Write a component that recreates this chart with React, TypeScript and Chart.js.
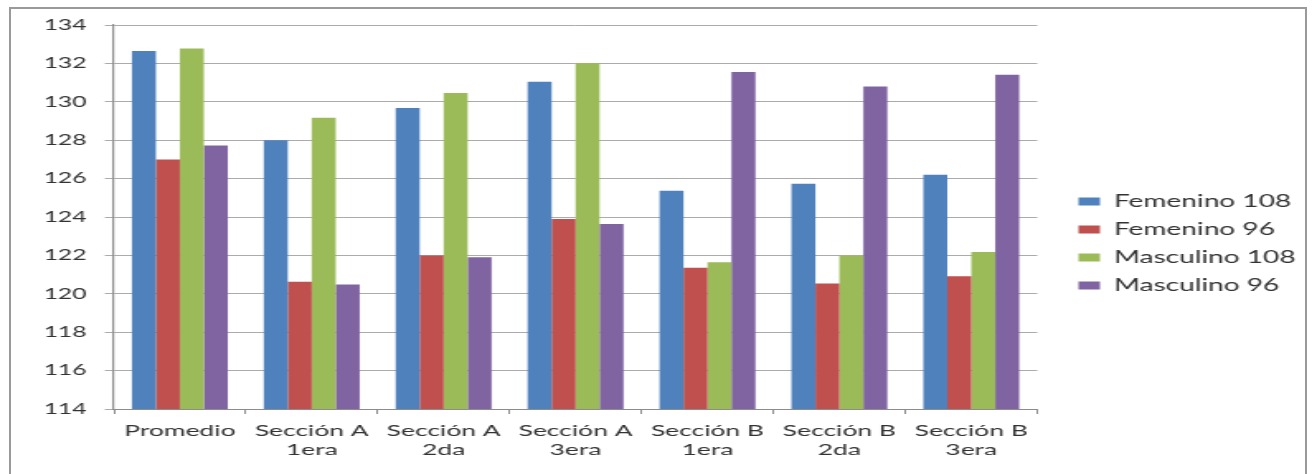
import React, { useEffect, useRef } from 'react';
import { Chart, registerables } from 'chart.js';

Chart.register(...registerables);

const categories: string[][] = [
  ['Promedio'],
  ['Sección A', '1era'],
  ['Sección A', '2da'],
  ['Sección A', '3era'],
  ['Sección B', '1era'],
  ['Sección B', '2da'],
  ['Sección B', '3era'],
];

const seriesNames = ['Femenino 108', 'Femenino 96', 'Masculino 108', 'Masculino 96'];

const femenino108 = [132.65, 128.0, 129.68, 131.05, 125.37, 125.73, 126.2];
const femenino96 = [127.0, 120.63, 122.0, 123.9, 121.36, 120.53, 120.91];
const masculino108 = [132.77, 129.17, 130.46, 132.02, 121.64, 122.0, 122.18];
const masculino96 = [127.73, 120.49, 121.9, 123.64, 131.55, 130.8, 131.41];

const yMin = 114;
const yMax = 134;
const yStep = 2;

const colors = ['#4F81BD', '#C0504D', '#9BBB59', '#8064A2'];

const STRETCH = 1.65;
const FULL_W = 1312;
const FULL_H = 474;
const LOGICAL_W = Math.round(FULL_W / STRETCH);
const FONT = 'Lato, "Open Sans", sans-serif';
const LEGEND_W = 166.5;
const LEGEND_SHIFT_X = 14;
const LEGEND_SHIFT_Y = -6;

const legendTweak = {
  id: 'legendTweak',
  afterInit(chart: any) {
    const lg = chart.legend;
    if (!lg) return;
    const fit = lg.fit.bind(lg);
    lg.fit = () => {
      fit();
      lg.width = LEGEND_W;
    };
  },
  afterLayout(chart: any) {
    const lg = chart.legend;
    if (!lg) return;
    lg.left += LEGEND_SHIFT_X;
    lg.right += LEGEND_SHIFT_X;
    lg.top += LEGEND_SHIFT_Y;
    lg.bottom += LEGEND_SHIFT_Y;
  },
};

export default function App() {
  const ref = useRef<HTMLCanvasElement | null>(null);

  useEffect(() => {
    if (!ref.current) return;
    const values = [femenino108, femenino96, masculino108, masculino96];
    const chart = new Chart(ref.current, {
      type: 'bar',
      data: {
        labels: categories,
        datasets: seriesNames.map((name, i) => ({
          label: name,
          data: values[i],
          backgroundColor: colors[i],
          borderWidth: 0,
          barPercentage: 1.0,
          categoryPercentage: 0.727,
        })),
      },
      options: {
        animation: false,
        responsive: false,
        devicePixelRatio: 1,
        layout: { padding: { top: 25, left: 0, right: 0, bottom: 0 } },
        plugins: {
          tooltip: { enabled: false },
          legend: {
            position: 'right',
            align: 'center',
            labels: {
              boxWidth: 13,
              boxHeight: 8,
              padding: 11,
              color: '#333',
              font: { family: FONT, size: 17 },
            },
          },
        },
        scales: {
          x: {
            grid: {
              drawOnChartArea: false,
              drawTicks: true,
              tickLength: 5,
              color: '#8c8c8c',
            },
            border: { color: '#8c8c8c', width: 1 },
            ticks: {
              color: '#333',
              font: { family: FONT, size: 16 },
              padding: 7,
              maxRotation: 0,
              autoSkip: false,
            },
            afterFit(scale: any) {
              scale.height = 65;
            },
          },
          y: {
            min: yMin,
            max: yMax,
            grid: {
              color: '#ababab',
              tickLength: 5.5,
            },
            border: { color: '#8c8c8c', width: 1.2 },
            ticks: {
              stepSize: yStep,
              color: '#333',
              font: { family: FONT, size: 15 },
              padding: 11,
            },
            afterFit(scale: any) {
              scale.width = 69;
            },
          },
        },
      },
      plugins: [legendTweak],
    });
    return () => chart.destroy();
  }, []);

  return (
    <div
      style={{
        position: 'fixed',
        left: 0,
        top: 0,
        width: FULL_W,
        height: FULL_H,
        background: '#fff',
        overflow: 'hidden',
      }}
    >
      <canvas
        ref={ref}
        width={LOGICAL_W}
        height={FULL_H}
        style={{
          position: 'absolute',
          left: 0,
          top: 0,
          width: FULL_W + 'px',
          height: FULL_H + 'px',
          display: 'block',
        }}
      />
      <div
        style={{
          position: 'absolute',
          left: 9,
          top: 7,
          width: 1298,
          height: 490,
          border: '2px solid #9a9a9a',
          boxSizing: 'border-box',
          pointerEvents: 'none',
        }}
      />
    </div>
  );
}
